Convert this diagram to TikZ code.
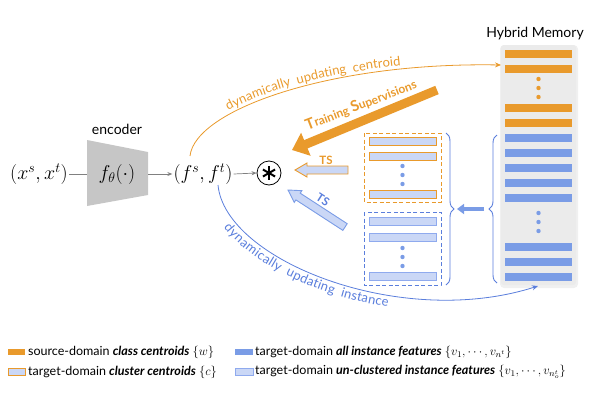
\RequirePackage{fix-cm}
\documentclass[tikz,border=0pt]{standalone}
\usepackage{fontspec}
\setmainfont{Lato}
\newfontfamily\curvefont[WordSpace=2]{Lato}
\usetikzlibrary{arrows.meta,decorations.pathreplacing,decorations.text,calc}
\definecolor{orC}{HTML}{E99A2C}
\definecolor{blC}{HTML}{7A9CE6}
\definecolor{lnC}{HTML}{5A7EDC}
\definecolor{lbC}{HTML}{CAD7F6}
\definecolor{lbB}{HTML}{8FAAEE}
\definecolor{grC}{HTML}{808080}
\definecolor{panC}{HTML}{EBEBEB}
\begin{document}
\begin{tikzpicture}[x=1pt,y=-1pt,
  gline/.style={grC,line width=0.7pt},
  garrow/.style={grC,line width=0.7pt,-{Stealth[length=5pt,width=4pt]}},
  obar/.style={fill=orC,draw=none},
  bbar/.style={fill=blC,draw=none},
  ocbar/.style={fill=lbC,draw=orC,line width=0.9pt},
  ucbar/.style={fill=lbC,draw=lbB,line width=0.9pt},
  odot/.style={fill=orC,draw=none},
  bdot/.style={fill=blC,draw=none},
  bigmath/.style={font=\fontsize{20}{24}\selectfont},
  lab/.style={font=\fontsize{14}{16}\selectfont},
  legtext/.style={anchor=west,font=\fontsize{12.5}{15}\selectfont,inner sep=0pt},
  tsarrow/.style={line width=0.9pt,line join=miter},
  bracestyle/.style={lnC,line width=0.9pt,decorate,decoration={brace,amplitude=8pt}}
]
\useasboundingbox (0,0) rectangle (600,400);

% ---------- encoder ----------
\fill[gray!45] (87,140) -- (148,152) -- (148,195) -- (87,206) -- cycle;
\coordinate (encL) at (87,174);
\coordinate (encR) at (148,174);
\node[bigmath] (enc) at (117,174) {$f_\theta(\cdot)$};
\node[lab] (enclab) at (117,129) {encoder};
\node[bigmath,inner sep=1pt] (in) at (39,174) {$(x^s,x^t)$};
\node[bigmath,inner sep=1pt] (feat) at (203,174) {$(f^s,f^t)$};
\node[circle,draw,line width=0.8pt,minimum size=24pt,inner sep=0pt] (star) at (269,173) {};
\foreach \a in {90,30,-30}{
  \draw[line width=2pt] ($(star.center)+(\a:7pt)$) -- ($(star.center)+(\a+180:7pt)$);
}
\draw[gline] (in.east) -- (encL);
\draw[garrow] (encR) -- (feat.west);
\draw[garrow] (feat.east) -- (star.west);

% ---------- hybrid memory ----------
\fill[black,opacity=0.06,rounded corners=4pt] (500,45) rectangle (578,288);
\fill[panC,rounded corners=3pt] (501,45) rectangle (576,285);
\node[lab] (memlab) at (535,34) {Hybrid Memory};
\foreach \y in {50,65,104,119}{ \fill[obar] (505,\y) rectangle (572,\y+8); }
\foreach \y in {79,88,97}{ \fill[odot] (538.5,\y) circle (2.2pt); }
\foreach \y in {134,149,164,179,194,243,258,273}{ \fill[bbar] (505,\y) rectangle (572,\y+8); }
\foreach \y in {213,222,231}{ \fill[bdot] (538.5,\y) circle (2.2pt); }
\coordinate (memA) at (501,65);
\coordinate (memB) at (538,286);

% ---------- dashed boxes ----------
\draw[orC,line width=0.9pt,dash pattern=on 4pt off 2.5pt] (364,133) rectangle (441,202);
\draw[lnC,line width=0.9pt,dash pattern=on 4pt off 2.5pt] (364,212) rectangle (441,285);
\foreach \y in {137,152,190}{ \draw[ocbar] (369,\y) rectangle (436,\y+8); }
\foreach \y in {166,175,184}{ \fill[bdot] (402.5,\y) circle (2.2pt); }
\foreach \y in {217,233,272}{ \draw[ucbar] (369,\y) rectangle (436,\y+8); }
\foreach \y in {248,257,266}{ \fill[bdot] (402.5,\y) circle (2.2pt); }

% ---------- braces ----------
\draw[bracestyle] (446,133) -- (446,285);
\draw[bracestyle] (497,283) -- (497,135);
\coordinate (brR) at (484,209);
\coordinate (brL) at (457,209);
\draw[blC,line width=4.5pt,-{Triangle[length=7pt,width=10pt]}] (brR) -- (brL);

% ---------- curves ----------
\coordinate (oc0) at (190,156);
\draw[orC,line width=0.8pt,-{Stealth[length=6pt,width=5pt]}] (oc0) .. controls (195,110) and (330,62) .. (memA);
\path[decorate,decoration={text along path,
   text={|\curvefont\fontsize{13}{15}\selectfont|dynamically updating centroid},
   text color=orC,text align={left indent=60pt},raise=3.5pt}]
   (oc0) .. controls (195,110) and (330,62) .. (memA);

\coordinate (bc0) at (218,185);
\draw[lnC,line width=0.8pt,-{Stealth[length=6pt,width=5pt]}] (bc0) .. controls (225,260) and (400,330) .. (memB);
\path[decorate,decoration={text along path,
   text={|\curvefont\fontsize{13}{15}\selectfont|dynamically updating instance},
   text color=lnC,text align={left indent=38pt},raise=-12pt}]
   (bc0) .. controls (225,260) and (400,330) .. (memB);

% ---------- training supervision arrows ----------
\coordinate (ts0) at (437,90);
\coordinate (ts1) at (292,150);
\draw[orC,line width=9pt,-{Triangle[length=15pt,width=24pt]}] (ts0) -- (ts1);
\node[orC,rotate=21,font=\bfseries\fontsize{12}{14}\selectfont,inner sep=0pt] (tslab) at (361,105)
  {{\fontsize{15}{16}\selectfont T}raining {\fontsize{15}{16}\selectfont S}upervisions};

\begin{scope}[shift={(295,170)}]
  \draw[tsarrow,orC,fill=lbC] (0,0) -- (12,-7) -- (12,-4) -- (53,-4) -- (53,4) -- (12,4) -- (12,7) -- cycle;
\end{scope}
\node[orC,font=\bfseries\fontsize{11.5}{14}\selectfont,inner sep=0pt] (ts1lab) at (326,160) {TS};

\begin{scope}[shift={(288,190)},rotate=-33]
  \draw[tsarrow,blC,fill=lbC] (0,0) -- (12,-7) -- (12,-4) -- (68,-4) -- (68,4) -- (12,4) -- (12,7) -- cycle;
\end{scope}
\node[lnC,rotate=-33,font=\bfseries\fontsize{11.5}{14}\selectfont,inner sep=0pt] (ts2lab) at (323,200) {TS};

% ---------- legend ----------
\fill[orC] (8,349) rectangle (25,355);
\draw[fill=lbC,draw=orC,line width=0.9pt] (8.5,368.5) rectangle (25,375.5);
\fill[blC] (235,349) rectangle (253,355);
\draw[fill=lbC,draw=lbB,line width=0.9pt] (235.5,368.5) rectangle (253,375.5);
\node[legtext] (l1) at (28,352) {source-domain \textbf{\textit{class centroids}} $\{w\}$};
\node[legtext] (l2) at (28,372) {target-domain \textbf{\textit{cluster centroids}} $\{c\}$};
\node[legtext] (l3) at (255,352) {target-domain \textbf{\textit{all instance features}} $\{v_1,\cdots,v_{n^t}\}$};
\node[legtext] (l4) at (255,372) {target-domain \textbf{\textit{un-clustered instance features}} $\{v_1,\cdots,v_{n_o^t}\}$};
\end{tikzpicture}
\end{document}
